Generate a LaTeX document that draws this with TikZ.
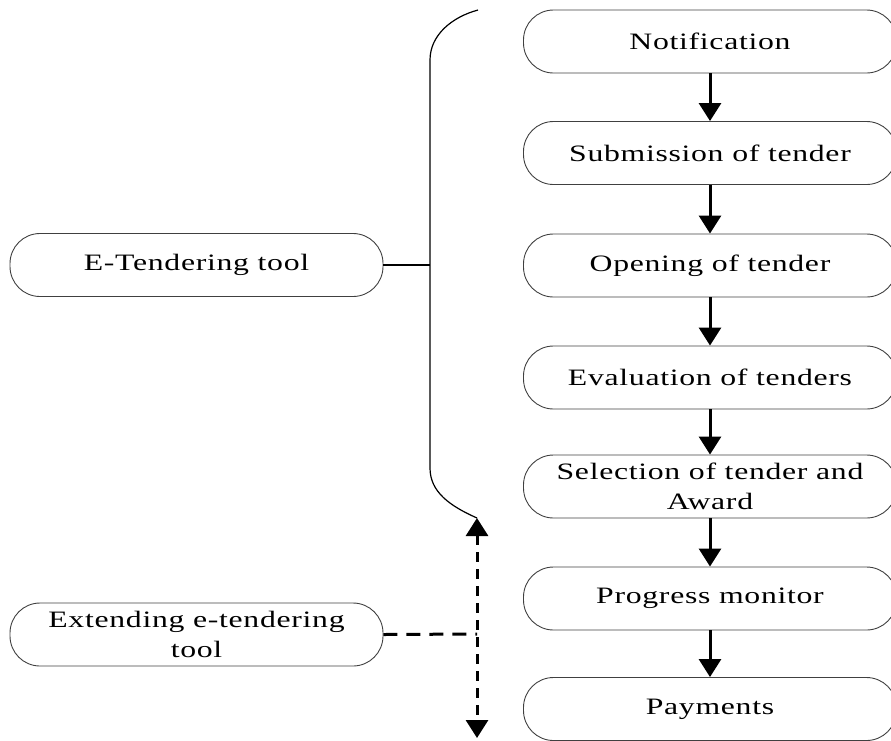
\documentclass[tikz,border=0pt]{standalone}
\usepackage{fontspec}
\setmainfont{Liberation Serif}[FakeStretch=1.35,LetterSpace=3]
\usetikzlibrary{arrows.meta}
\begin{document}
\begin{tikzpicture}[x=1pt,y=-1pt,
  stage/.style={draw=black!75,line width=0.9pt,rounded corners=30pt,
    minimum width=373pt,minimum height=63pt,inner sep=0pt,align=center,
    font=\fontsize{23.5}{30}\selectfont},
  tool/.style={stage},
  flow/.style={line width=3pt,-{Triangle[width=22pt,length=18pt]}},
  brace/.style={line width=1.2pt},
  extline/.style={line width=3pt,dash pattern=on 14pt off 9pt},
  extvert/.style={line width=3pt,dash pattern=on 10pt off 7pt,
    {Triangle[width=22pt,length=18pt]}-{Triangle[width=22pt,length=18pt]}}]
\useasboundingbox (0,0) rectangle (891,740);

% process stages
\node[stage] (n1) at (710,41.5) {Notification};
\node[stage] (n2) at (710,153) {Submission of tender};
\node[stage] (n3) at (710,265.5) {Opening of tender};
\node[stage] (n4) at (710,377.5) {Evaluation of tenders};
\node[stage] (n5) at (710,486.5) {Selection of tender and\\Award};
\node[stage] (n6) at (710,598.5) {Progress monitor};
\node[stage] (n7) at (710,709) {Payments};

\foreach \a/\b in {n1/n2,n2/n3,n3/n4,n4/n5,n5/n6,n6/n7}
  \draw[flow] (\a.south) -- (\b.north);

% tools on the left
\node[tool] (et) at (196.5,265) {E-Tendering tool};
\node[tool] (ext) at (196.5,634.5) {Extending e-tendering\\tool};

% brace grouping the tendering stages
\coordinate (btop) at (478,10);
\coordinate (bup) at (430,60);
\coordinate (bmid) at (430,265);
\coordinate (blow) at (430,468);
\coordinate (bbot) at (477,518);
\draw[brace] (btop) .. controls (452,17) and (430,35) .. (bup)
  -- (blow) .. controls (430,492) and (450,506) .. (bbot);
\draw[brace] (et.east) -- (bmid);

% extension link
\coordinate (dtop) at (477,518);
\coordinate (dbot) at (477,738);
\coordinate (djoin) at (477,634);
\draw[extvert] (dtop) -- (dbot);
\draw[extline] (ext.east) -- (djoin);
\end{tikzpicture}
\end{document}
